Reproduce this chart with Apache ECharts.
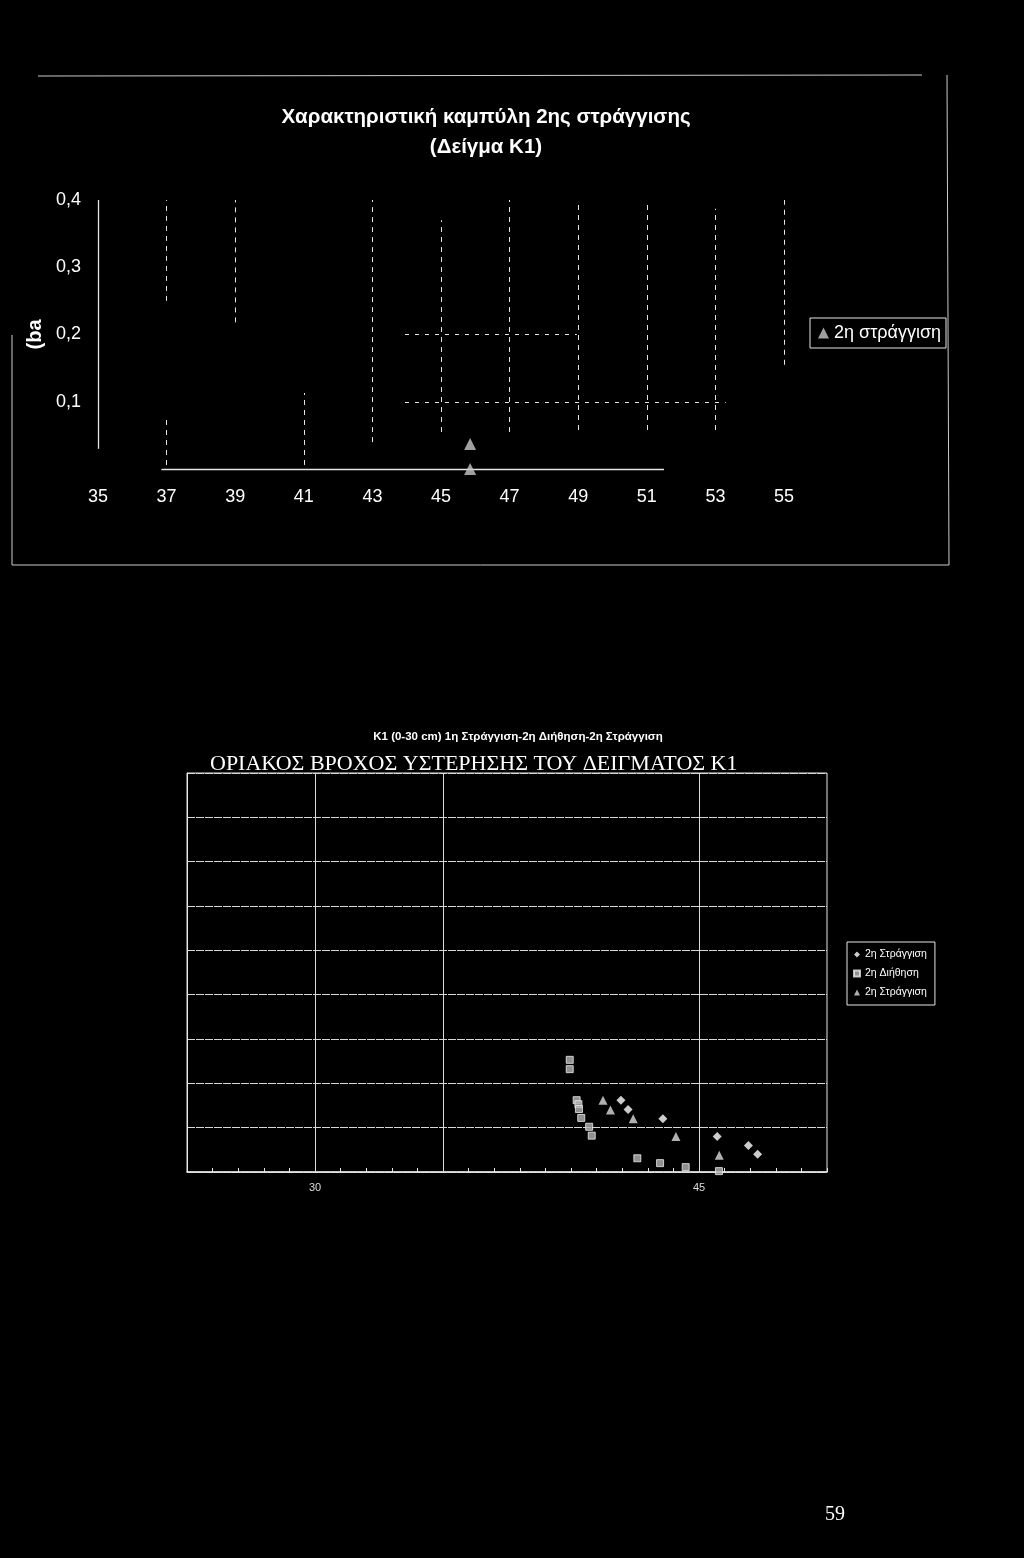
<!DOCTYPE html>
<html><head><meta charset="utf-8">
<script src="https://cdn.jsdelivr.net/npm/echarts@6/dist/echarts.min.js"></script>
<style>html,body{margin:0;padding:0;background:#000;}#c{width:1024px;height:1558px;}</style>
</head><body><div id="c"></div>
<script>
// ---------- top chart data ----------
const topTitle = 'Χαρακτηριστική καμπύλη 2ης στράγγισης\n(Δείγμα Κ1)';
const topSeriesName = '2η στράγγιση';
const topYAxisName = '(ba';
const topX = [45.85, 45.85];
const topY = [0.037, 0.0];
const topXTickLabels = [35, 37, 39, 41, 43, 45, 47, 49, 51, 53, 55];
const topYTickLabels = ['0,1', '0,2', '0,3', '0,4'];

// ---------- bottom chart data ----------
const bottomTitle = 'K1 (0-30 cm) 1η Στράγγιση-2η Διήθηση-2η Στράγγιση';
const bottomSubtitle = 'ΟΡΙΑΚΟΣ ΒΡΟΧΟΣ ΥΣΤΕΡΗΣΗΣ ΤΟΥ ΔΕΙΓΜΑΤΟΣ Κ1';
const drainName = '2η Στράγγιση';
const imbibName = '2η Διήθηση';
const drain2Name = '2η Στράγγιση\u200b';
const drainX = [41.95, 42.23, 43.59, 45.71, 46.93, 47.29];
const drainY = [16.2, 14.1, 12.0, 8.0, 6.0, 4.0];
const imbibX = [39.95, 39.95, 40.22, 40.29, 40.31, 40.4, 40.71, 40.81, 42.59, 43.48, 44.48, 45.78];
const imbibY = [25.3, 23.2, 16.2, 15.3, 14.2, 12.2, 10.2, 8.2, 3.1, 2.0, 1.1, 0.2];
const drain2X = [41.25, 41.54, 42.43, 44.1, 45.79];
const drain2Y = [16.2, 14.0, 12.0, 8.0, 3.8];
const bottomXTickLabels = [30, 45];
const pageNumber = '59';

const zip = (xs, ys) => xs.map((x, i) => [x, ys[i]]);
const W = '#e6e6e6';
const dash = {color: W, width: 1, type: [5, 5]};

const topVSeg = [
  [37, 0.25, 0.40], [37, 0.006, 0.078], [39, 0.218, 0.40], [41, 0.006, 0.113],
  [43, 0.04, 0.40], [45, 0.055, 0.37], [47, 0.055, 0.40], [49, 0.058, 0.40],
  [51, 0.058, 0.40], [53, 0.058, 0.387], [55, 0.155, 0.40]
];
const topHSeg = [[0.2, 43.95, 48.96], [0.1, 43.95, 53.3]];

const chart = echarts.init(document.getElementById('c'));
chart.setOption({
  backgroundColor: '#000',
  animation: false,
  title: [
    {text: topTitle, left: 481, top: 97, textAlign: 'center',
     textStyle: {color: '#fff', fontSize: 20.5, fontWeight: 'bold', fontFamily: 'Liberation Sans, Arial, sans-serif', lineHeight: 30}},
    {text: bottomTitle, left: 513, top: 726, textAlign: 'center',
     textStyle: {color: '#fff', fontSize: 11.5, fontWeight: 'bold', fontFamily: 'Liberation Sans Narrow, Arial Narrow, Liberation Sans, sans-serif'}},
    {text: bottomSubtitle, left: 205, top: 748,
     textStyle: {color: '#fff', fontSize: 22, fontWeight: 'normal', fontFamily: 'Liberation Serif, Times New Roman, serif'}},
    {text: pageNumber, left: 830, top: 1500, textAlign: 'center',
     textStyle: {color: '#fff', fontSize: 20, fontWeight: 'normal', fontFamily: 'Liberation Serif, serif'}}
  ],
  legend: [
    {data: [topSeriesName], left: 810, top: 318, orient: 'vertical',
     borderColor: W, borderWidth: 1, padding: [6, 5, 6, 8], itemWidth: 11, itemHeight: 11, itemGap: 4,
     textStyle: {color: '#fff', fontSize: 18, fontFamily: 'Liberation Sans, Arial, sans-serif'}},
    {data: [drainName, imbibName, drain2Name], left: 847, top: 942, orient: 'vertical',
     borderColor: W, borderWidth: 1, padding: [7, 8, 7, 6], itemWidth: 6, itemHeight: 6, itemGap: 8,
     formatter: n => n.replace('\u200b', ''),
     textStyle: {color: '#fff', fontSize: 10.5, fontFamily: 'Liberation Sans Narrow, Arial Narrow, Liberation Sans, sans-serif'}}
  ],
  grid: [
    {left: 98, top: 200, width: 686, height: 269},
    {left: 187, top: 773, width: 640, height: 399, show: true, borderColor: W, borderWidth: 1}
  ],
  xAxis: [
    {gridIndex: 0, type: 'value', min: 35, max: 55, interval: 1,
     axisLine: {show: false}, axisTick: {show: false}, splitLine: {show: false},
     axisLabel: {color: '#fff', fontSize: 18, margin: 19, fontFamily: 'Liberation Sans, Arial, sans-serif',
       formatter: v => topXTickLabels.includes(v) ? String(v) : ''}},
    {gridIndex: 1, type: 'value', min: 25, max: 50, interval: 1,
     axisLine: {show: true, lineStyle: {color: W, width: 1.5}},
     axisTick: {show: true, inside: true, length: 4, lineStyle: {color: W}},
     splitLine: {show: false},
     axisLabel: {color: '#ddd', fontSize: 11, margin: 10, fontFamily: 'Liberation Sans, Arial, sans-serif',
       formatter: v => bottomXTickLabels.includes(v) ? String(v) : ''}}
  ],
  yAxis: [
    {gridIndex: 0, type: 'value', min: 0, max: 0.4, interval: 0.1,
     name: topYAxisName, nameLocation: 'middle', nameRotate: 90, nameGap: 43,
     nameTextStyle: {color: '#fff', fontSize: 20, fontWeight: 'bold', fontFamily: 'Liberation Sans, Arial, sans-serif'},
     axisLine: {show: false}, axisTick: {show: false}, splitLine: {show: false},
     axisLabel: {color: '#fff', fontSize: 18, margin: 17, fontFamily: 'Liberation Sans, Arial, sans-serif',
       formatter: v => { const i = Math.round(v * 10) - 1; return i >= 0 ? topYTickLabels[i] : ''; }}},
    {gridIndex: 1, type: 'value', min: 0, max: 90, interval: 10,
     axisLine: {show: true, lineStyle: {color: W}}, axisTick: {show: false}, axisLabel: {show: false},
     splitLine: {show: true, lineStyle: {color: '#d8d8d8', width: 1, type: [8, 1]}}}
  ],
  series: [
    {name: topSeriesName, type: 'scatter', xAxisIndex: 0, yAxisIndex: 0, data: zip(topX, topY),
     symbol: 'triangle', symbolSize: 12, itemStyle: {color: '#c8c8c8'}, z: 5,
     markLine: {silent: true, symbol: 'none', label: {show: false}, animation: false,
       data: [
         ...topVSeg.map(s => [{coord: [s[0], s[1]], lineStyle: dash}, {coord: [s[0], s[2]]}]),
         ...topHSeg.map(s => [{coord: [s[1], s[0]], lineStyle: {color: W, width: 1, type: [4, 6]}}, {coord: [s[2], s[0]]}]),
         [{coord: [35, 0.03], lineStyle: {color: W, width: 1.3, type: 'solid'}}, {coord: [35, 0.4]}],
         [{coord: [36.85, 0], lineStyle: {color: W, width: 1.3, type: 'solid'}}, {coord: [51.5, 0]}]
       ]}},
    {name: drainName, type: 'scatter', xAxisIndex: 1, yAxisIndex: 1, data: zip(drainX, drainY),
     symbol: 'diamond', symbolSize: 9, itemStyle: {color: '#fff'}, z: 5,
     markLine: {silent: true, symbol: 'none', label: {show: false}, animation: false,
       lineStyle: {color: '#d8d8d8', width: 1, type: 'solid'},
       data: [{xAxis: 30}, {xAxis: 35}, {xAxis: 45}]}},
    {name: imbibName, type: 'scatter', xAxisIndex: 1, yAxisIndex: 1, data: zip(imbibX, imbibY),
     symbol: 'rect', symbolSize: 7, itemStyle: {color: '#b5b5b5', borderColor: '#eee', borderWidth: 1}, z: 5},
    {name: drain2Name, type: 'scatter', xAxisIndex: 1, yAxisIndex: 1, data: zip(drain2X, drain2Y),
     symbol: 'triangle', symbolSize: 9, itemStyle: {color: '#dcdcdc'}, z: 5}
  ],
  graphic: [
    {type: 'line', shape: {x1: 38, y1: 76, x2: 922, y2: 75}, style: {stroke: '#ccc', lineWidth: 1}},
    {type: 'line', shape: {x1: 947, y1: 75, x2: 949, y2: 565}, style: {stroke: '#ccc', lineWidth: 1}},
    {type: 'line', shape: {x1: 12, y1: 565, x2: 949, y2: 565}, style: {stroke: '#ccc', lineWidth: 1}},
    {type: 'line', shape: {x1: 12, y1: 335, x2: 12, y2: 565}, style: {stroke: '#ccc', lineWidth: 1}}
  ]
});
</script></body></html>
